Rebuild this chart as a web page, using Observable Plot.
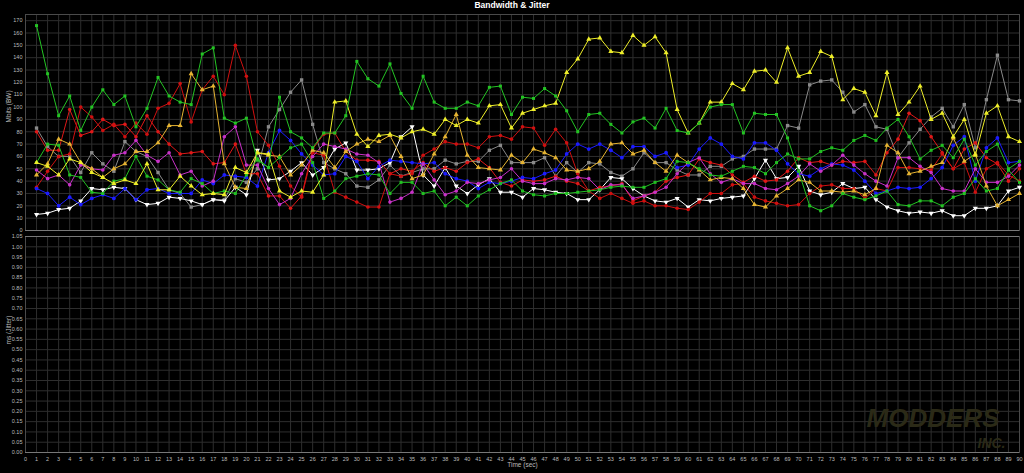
<!DOCTYPE html>
<html><head><meta charset="utf-8">
<script src="https://cdn.jsdelivr.net/npm/d3@7"></script>
<script src="https://cdn.jsdelivr.net/npm/@observablehq/plot@0.6"></script>
<style>
html,body{margin:0;padding:0;background:#000;}
#title{height:12px;line-height:12px;text-align:center;color:#fff;font:bold 8.5px "Liberation Sans",Arial,sans-serif;}
#chart svg{display:block;}
</style></head><body>
<div id="title">Bandwidth &amp; Jitter</div>
<div id="chart"></div>
<script>
const seconds = [1,2,3,4,5,6,7,8,9,10,11,12,13,14,15,16,17,18,19,20,21,22,23,24,25,26,27,28,29,30,31,32,33,34,35,36,37,38,39,40,41,42,43,44,45,46,47,48,49,50,51,52,53,54,55,56,57,58,59,60,61,62,63,64,65,66,67,68,69,70,71,72,73,74,75,76,77,78,79,80,81,82,83,84,85,86,87,88,89,90];
const timeTicks = [0,1,2,3,4,5,6,7,8,9,10,11,12,13,14,15,16,17,18,19,20,21,22,23,24,25,26,27,28,29,30,31,32,33,34,35,36,37,38,39,40,41,42,43,44,45,46,47,48,49,50,51,52,53,54,55,56,57,58,59,60,61,62,63,64,65,66,67,68,69,70,71,72,73,74,75,76,77,78,79,80,81,82,83,84,85,86,87,88,89,90];
const bwTicks = [0,10,20,30,40,50,60,70,80,90,100,110,120,130,140,150,160,170];
const jitterTicks = [0,0.05,0.1,0.15,0.2,0.25,0.3,0.35,0.4,0.45,0.5,0.55,0.6,0.65,0.7,0.75,0.8,0.85,0.9,0.95,1,1.05];

const green1 = [166,127,93,109,81,100,114,102,109,84, 99,124,109,104,102,143,148,91,87,91, 57,51,108,80,75,67,79,79,93,137, 123,117,135,111,99,125,104,99,99,104, 101,116,117,94,108,107,115,109,97,80, 94,95,86,79,88,91,83,99,81,79, 87,100,102,102,79,95,94,94,75,48, 20,16,20,30,27,25,28,32,21,20, 24,24,20,27,30,42,32,34,49,39];
const green2 = [55,70,69,45,43,31,30,40,42,60, 44,41,33,31,42,38,30,32,30,45, 58,51,59,67,70,55,26,32,42,44, 46,45,30,39,39,30,32,20,27,20, 28,33,38,41,32,29,28,30,30,31, 32,33,35,36,35,35,39,42,56,55, 50,45,44,48,52,51,46,55,62,58, 58,64,67,65,73,77,73,83,90,76, 58,65,69,59,74,53,64,70,50,56];
const yellow = [55,52,45,58,55,47,43,38,41,38, 54,33,33,44,36,29,30,29,51,47, 63,62,32,27,32,31,45,104,105,78, 68,77,78,75,80,82,78,90,85,90, 87,101,102,83,95,98,101,103,128,139, 155,156,145,144,158,150,157,144,98,79, 87,104,104,119,114,129,130,120,148,125, 128,145,141,106,115,112,93,128,94,104, 117,90,95,76,90,61,95,101,76,72];
const gold = [45,54,74,70,55,50,43,50,54,64, 64,71,85,85,127,114,117,54,35,34, 63,61,60,45,53,65,63,51,64,70, 74,72,77,60,42,45,62,76,94,61, 51,50,49,61,55,66,63,59,49,48, 50,56,70,71,62,65,55,48,61,55, 49,41,43,42,34,21,19,28,34,41, 39,32,32,31,32,29,34,69,63,46, 48,52,55,75,56,62,36,20,25,30];
const gray = [83,68,60,60,47,63,54,48,72,64, 60,47,33,30,19,21,25,25,42,39, 50,84,98,112,122,86,55,50,46,36, 35,41,53,44,47,50,50,57,54,56, 56,65,69,55,55,55,59,44,55,47, 55,54,47,44,50,63,55,55,49,45, 45,52,52,58,60,66,66,66,85,83, 118,121,122,112,96,102,84,82,59,71, 82,92,99,84,102,67,106,142,106,105];
const blue = [34,30,20,27,21,26,29,26,34,25, 33,34,30,30,30,41,38,45,44,43, 36,63,81,73,62,53,45,46,60,56, 42,52,57,56,55,54,55,46,42,40, 34,39,38,40,43,42,46,49,62,70, 66,70,65,59,68,68,60,63,51,53, 66,75,70,60,58,71,71,65,54,46, 44,50,54,53,49,40,30,32,35,34, 35,42,51,69,76,40,67,75,55,56];
const magenta = [49,42,45,37,53,50,49,61,63,73, 61,56,63,45,48,36,40,76,84,53, 53,34,21,26,46,60,70,68,66,62, 61,55,23,26,31,54,41,29,32,39, 38,41,43,50,40,38,38,42,41,43, 42,33,37,37,26,28,31,35,46,55, 59,46,39,42,38,38,34,33,38,44, 54,48,53,61,53,46,40,36,59,59, 52,47,34,32,32,50,39,39,44,53];
const white = [13,14,17,18,24,34,33,35,34,25, 21,22,27,26,24,21,25,24,35,29, 65,41,42,48,55,45,51,66,71,49, 49,50,55,76,84,45,36,51,36,30, 37,42,31,31,27,34,33,31,30,25, 25,33,43,42,34,28,24,23,26,19, 25,24,26,27,28,42,57,42,43,52, 32,29,31,38,34,35,25,19,16,14, 15,14,16,12,12,18,18,20,32,35];
const red1 = [80,65,65,98,77,80,90,85,86,76, 93,80,70,62,63,64,54,55,70,46, 46,28,28,18,28,66,78,79,64,57, 57,56,46,50,48,55,48,51,48,55, 58,51,39,36,41,40,41,44,40,38, 32,35,36,38,24,28,31,40,43,45, 58,55,53,45,39,44,40,41,48,59, 55,56,53,56,55,56,45,63,74,95, 89,76,63,50,66,71,59,54,40,50];
const red2 = [35,48,60,62,100,92,81,86,76,87, 78,99,103,119,88,114,125,110,150,125, 80,69,52,36,27,63,61,31,27,23, 19,19,46,44,46,61,66,72,70,70, 67,76,77,74,84,83,69,82,71,46, 32,26,30,26,22,24,20,20,18,17, 23,30,30,37,38,27,24,22,20,21, 30,36,37,34,34,26,34,32,51,51, 50,49,62,50,55,31,50,55,45,40];

const series = [
  {values: gray,    color: "#8a8a8a", symbol: "square",   rotate: 0,   r: 1.9},
  {values: white,   color: "#ffffff", symbol: "triangle", rotate: 180, r: 1.9},
  {values: red1,    color: "#e01818", symbol: "circle",   rotate: 0,   r: 1.8},
  {values: red2,    color: "#d01010", symbol: "circle",   rotate: 0,   r: 1.8},
  {values: blue,    color: "#1c1cff", symbol: "circle",   rotate: 0,   r: 1.9},
  {values: magenta, color: "#c832c8", symbol: "circle",   rotate: 0,   r: 1.8},
  {values: gold,    color: "#e6b432", symbol: "triangle", rotate: 0,   r: 1.9},
  {values: green2,  color: "#22c022", symbol: "square",   rotate: 0,   r: 1.7},
  {values: yellow,  color: "#eeee2a", symbol: "triangle", rotate: 0,   r: 1.9},
  {values: green1,  color: "#24c424", symbol: "square",   rotate: 0,   r: 1.7}
];

const font = "Liberation Sans, Arial, sans-serif";
const gridColor = "#2e2e2e";

const seriesMarks = series.flatMap(s => {
  const rows = seconds.map((t, i) => ({t, v: s.values[i]}));
  return [
    Plot.line(rows, {x: "t", y: "v", stroke: s.color, strokeWidth: 1}),
    Plot.dot(rows, {x: "t", y: "v", symbol: s.symbol, r: s.r, fill: s.color, stroke: "none", rotate: s.rotate})
  ];
});

const topPlot = Plot.plot({
  width: 1024, height: 221,
  marginLeft: 25, marginRight: 5, marginTop: 2, marginBottom: 3,
  style: {background: "#000", color: "#bbb", fontSize: "5.5px", fontFamily: font},
  x: {domain: [0, 90], axis: null},
  y: {domain: [0, 175], axis: null},
  marks: [
    Plot.gridX(timeTicks, {stroke: gridColor, strokeOpacity: 1}),
    Plot.gridY(bwTicks, {stroke: gridColor, strokeOpacity: 1}),
    Plot.frame({stroke: "#4a4a4a"}),
    Plot.ruleY([0], {stroke: "#777"}),
    Plot.axisY(bwTicks, {tickSize: 0, tickPadding: 3, label: null, fill: "#bbb"}),
    Plot.text(["Mbits (BW)"], {frameAnchor: "left", dx: -17, rotate: -90, fill: "#bbb", fontSize: 6.5}),
    ...seriesMarks
  ]
});

const bottomPlot = Plot.plot({
  width: 1024, height: 240,
  marginLeft: 25, marginRight: 5, marginTop: 3, marginBottom: 21,
  style: {background: "#000", color: "#bbb", fontSize: "5.5px", fontFamily: font},
  x: {domain: [0, 90], axis: null},
  y: {domain: [0, 1.05], axis: null},
  marks: [
    Plot.gridX(timeTicks, {stroke: gridColor, strokeOpacity: 1}),
    Plot.gridY(jitterTicks, {stroke: gridColor, strokeOpacity: 1}),
    Plot.frame({stroke: "#4a4a4a"}),
    Plot.ruleY([0], {stroke: "#777"}),
    Plot.ruleY([1.05], {stroke: "#777"}),
    Plot.axisY(jitterTicks, {tickSize: 0, tickPadding: 3, label: null, tickFormat: d => d.toFixed(2), fill: "#bbb"}),
    Plot.axisX(timeTicks, {tickSize: 0, tickPadding: 5, label: null, fill: "#bbb"}),
    Plot.text(["ms (Jitter)"], {frameAnchor: "left", dx: -17, rotate: -90, fill: "#bbb", fontSize: 6.5}),
    Plot.text(["Time (sec)"], {frameAnchor: "bottom", dy: 14, fill: "#bbb", fontSize: 6.5}),
    Plot.text(["MODDERS"], {frameAnchor: "bottom-right", dx: -20, dy: -26, fill: "#2b2a17", fontSize: 26, fontWeight: "bold", fontStyle: "italic", textAnchor: "end"}),
    Plot.text(["INC."], {frameAnchor: "bottom-right", dx: -14, dy: -5, fill: "#2b2a17", fontSize: 14, fontWeight: "bold", fontStyle: "italic", textAnchor: "end"})
  ]
});

const chart = document.getElementById("chart");
chart.appendChild(topPlot);
chart.appendChild(bottomPlot);
</script>
</body></html>
